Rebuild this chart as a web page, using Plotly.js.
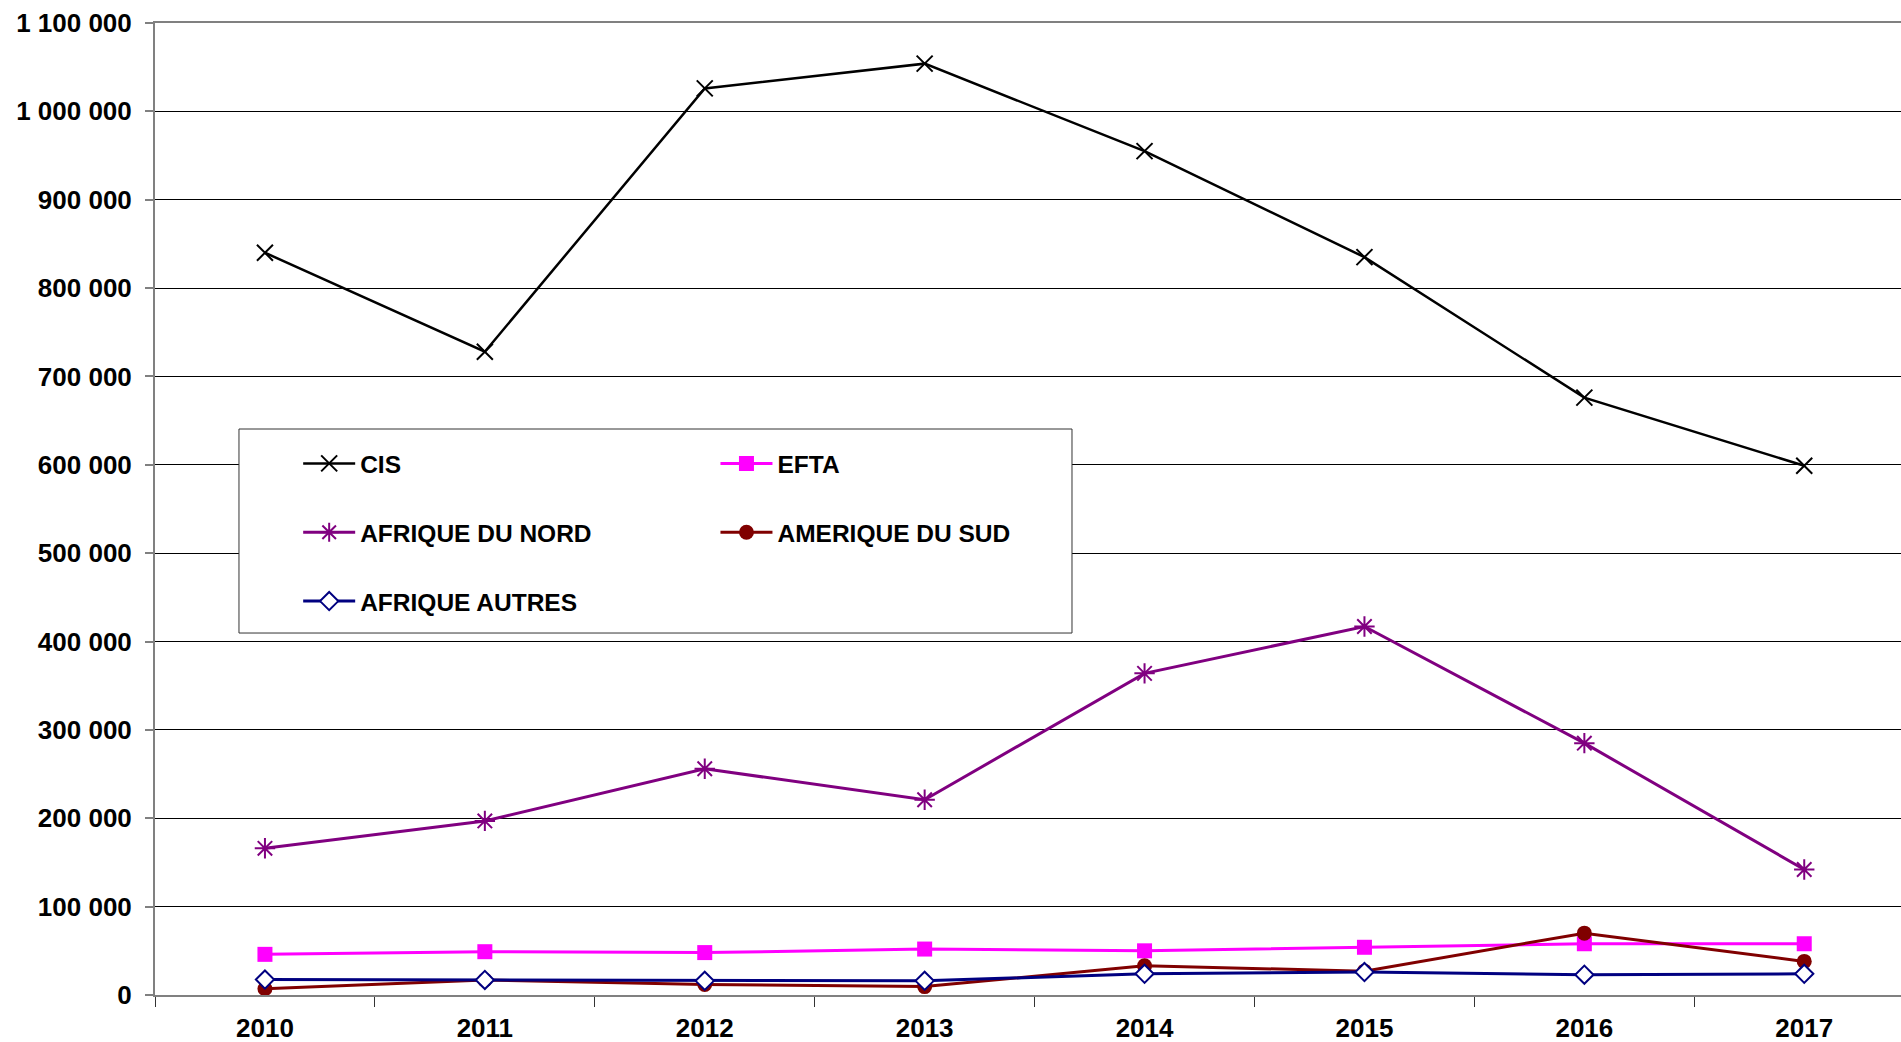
<!DOCTYPE html>
<html>
<head>
<meta charset="utf-8">
<script src="https://cdn.plot.ly/plotly-3.0.1.min.js"></script>
<style>
  html, body { margin: 0; padding: 0; background: #ffffff; }
  #chart { width: 1901px; height: 1042px; }
</style>
</head>
<body>
<div id="chart"></div>
<script>
// Data
const years = ["2010", "2011", "2012", "2013", "2014", "2015", "2016", "2017"];
const cis = [840000, 728000, 1026000, 1054000, 955000, 835000, 676000, 599000];
const efta = [46000, 49000, 48000, 52000, 50000, 54000, 58000, 58000];
const afriqueNord = [166000, 197000, 256000, 221000, 364000, 417000, 285000, 142000];
const ameriqueSud = [7000, 17000, 12000, 9500, 33000, 27000, 70000, 38000];
const afriqueAutres = [17500, 17000, 16000, 16000, 24000, 26000, 23000, 24000];

const FONT = "Liberation Sans, Arial, sans-serif";

const traces = [
  { name: "CIS", y: cis, legend: "legend", legendgroup: "g1",
    line: { color: "#000000", width: 2.5 },
    marker: { symbol: "x-thin-open", size: 16, color: "#000000", line: { color: "#000000", width: 2 } } },
  { name: "EFTA", y: efta, legend: "legend2", legendgroup: "g2",
    line: { color: "#FF00FF", width: 3 },
    marker: { symbol: "square", size: 15, color: "#FF00FF" } },
  { name: "AFRIQUE DU NORD", y: afriqueNord, legend: "legend", legendgroup: "g3",
    line: { color: "#800080", width: 3 },
    marker: { symbol: "asterisk-open", size: 17, color: "#800080", line: { color: "#800080", width: 2 } } },
  { name: "AMERIQUE DU SUD", y: ameriqueSud, legend: "legend2", legendgroup: "g4",
    line: { color: "#800000", width: 3 },
    marker: { symbol: "circle", size: 15, color: "#800000" } },
  { name: "AFRIQUE AUTRES", y: afriqueAutres, legend: "legend", legendgroup: "g5",
    line: { color: "#000080", width: 3 },
    marker: { symbol: "diamond", size: 14, color: "#ffffff", line: { color: "#000080", width: 2 } } }
].map(t => Object.assign({ type: "scatter", mode: "lines+markers", x: years, cliponaxis: false }, t));

const legendCommon = {
  font: { family: FONT, size: 24.5, color: "#000000", weight: "bold" },
  bgcolor: "rgba(0,0,0,0)",
  borderwidth: 0,
  itemwidth: 52,
  tracegroupgap: 34,
  xanchor: "left", yanchor: "top",
  traceorder: "grouped"
};

const layout = {
  width: 1901, height: 1042,
  margin: { l: 155, r: 0, t: 23, b: 47, pad: 0 },
  paper_bgcolor: "#ffffff", plot_bgcolor: "#ffffff",
  separators: ", ",
  font: { family: FONT, size: 26, color: "#000000", weight: "bold" },
  showlegend: true,
  xaxis: {
    type: "category",
    range: [-0.5, 7.44],
    tickson: "boundaries",
    ticks: "outside", ticklen: 10, tickwidth: 1, tickcolor: "#333333",
    showgrid: false, zeroline: false,
    showline: true, linecolor: "#808080", linewidth: 2, mirror: true,
    tickfont: { family: FONT, size: 26, color: "#000000", weight: "bold" },
    ticklabelstandoff: 9,
    fixedrange: true
  },
  yaxis: {
    range: [0, 1100000],
    dtick: 100000, tick0: 0,
    tickformat: ",d",
    ticks: "outside", ticklen: 8, tickwidth: 2, tickcolor: "#808080",
    showgrid: true, gridcolor: "#000000", gridwidth: 1,
    zeroline: false,
    showline: true, linecolor: "#808080", linewidth: 2,
    tickfont: { family: FONT, size: 26, color: "#000000", weight: "bold" },
    ticklabelstandoff: 8,
    fixedrange: true
  },
  legend: Object.assign({ x: 0.082, y: 0.570 }, legendCommon),
  legend2: Object.assign({ x: 0.321, y: 0.570 }, legendCommon),
  shapes: [{
    type: "rect", xref: "paper", yref: "paper",
    x0: 0.0481, x1: 0.5252, y0: 0.3724, y1: 0.5823,
    fillcolor: "#ffffff", line: { color: "#333333", width: 1 },
    layer: "above"
  }]
};

Plotly.newPlot("chart", traces, layout, { displayModeBar: false, staticPlot: true });
</script>
</body>
</html>
